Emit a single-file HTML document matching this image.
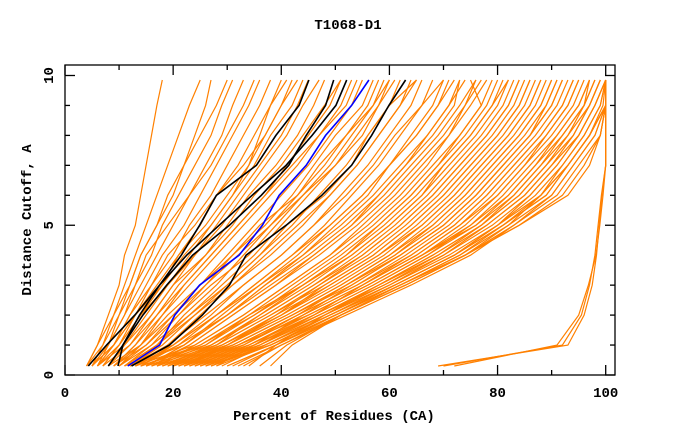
<!DOCTYPE html>
<html><head><meta charset="utf-8"><style>
body{margin:0;background:#fff}
svg{display:block}
text{font-family:"Liberation Mono",monospace;font-weight:bold;fill:#000}
</style></head><body>
<svg id="chart" width="680" height="440" viewBox="0 0 680 440" xmlns="http://www.w3.org/2000/svg">
<text x="348" y="29" font-size="14" text-anchor="middle">T1068-D1</text>
<g id="series"></g>
<g id="axes"></g>
<text x="334" y="420" font-size="14" text-anchor="middle">Percent of Residues (CA)</text>
<text transform="translate(31,220) rotate(-90)" font-size="14" text-anchor="middle">Distance Cutoff, A</text>
</svg>
<script>
const yLevels=[0.3,1,2,3,4,5,6,7,8,9,9.85];
const xTicks=[0,20,40,60,80,100];
const yTicks=[0,5,10];
const orangeLines=[
[4,6,8,10,11,13,14,15,16,17,18],
[4,6,9,11,13,15,17,19,21,23,25],
[5,7,9,12,14,17,19,22,24,26,27],
[5,8,11,13,16,18,21,24,27,29,31],
[6,8,11,14,17,20,23,26,29,31,33],
[6,9,12,15,18,22,25,28,31,34,36],
[7,10,13,16,20,23,27,30,33,36,38],
[7,10,14,18,21,25,28,32,35,38,40],
[8,11,15,19,23,27,31,34,37,40,42],
[8,12,16,20,24,28,32,36,40,43,45],
[5,9,13,18,22,27,31,35,38,42,44],
[6,10,14,19,24,29,33,37,41,44,47],
[9,13,17,21,26,30,34,39,43,46,48],
[10,14,18,22,27,32,37,41,45,49,51],
[9,13,18,23,28,33,38,43,47,51,53],
[10,15,20,25,30,35,40,45,49,53,55],
[11,16,21,26,31,37,42,46,50,55,57],
[12,17,22,28,33,38,43,48,52,56,58],
[11,17,23,29,35,40,45,50,54,58,60],
[12,18,24,30,36,42,47,52,56,60,62],
[13,19,25,31,38,44,49,54,58,62,64],
[14,20,27,33,40,46,51,56,60,64,66],
[14,21,28,35,42,48,53,58,62,66,68],
[15,22,30,37,44,50,56,60,64,68,70],
[16,23,31,39,46,53,58,63,67,71,73],
[8,14,19,25,31,36,43,47,52,57,60],
[9,15,21,27,34,39,44,50,55,58,61],
[10,16,23,30,36,41,48,53,56,60,65],
[7,12,17,22,27,32,37,42,47,52,54],
[6,11,16,20,26,31,35,40,44,48,51],
[5,9,12,16,19,24,28,33,37,40,43],
[4,7,10,13,15,19,23,27,30,33,35],
[5,8,10,12,14,17,20,22,25,28,30],
[6,9,13,17,21,26,30,34,36,38,41],
[9,14,20,26,32,38,44,49,53,57,59],
[11,17,24,31,37,43,49,54,58,62,65],
[12,19,26,33,40,46,52,57,61,66,70],
[13,20,28,35,42,49,55,60,65,69,72],
[16,25,34,42,50,57,63,68,73,77,79],
[17,26,35,44,52,59,65,70,75,79,81],
[18,27,37,46,54,61,67,72,77,81,83],
[19,28,38,47,56,63,69,74,79,83,85],
[20,29,39,49,58,65,71,76,81,85,87],
[20,30,41,51,60,67,73,78,83,87,89],
[21,31,42,52,61,69,75,80,85,89,91],
[22,32,43,54,63,71,77,82,87,91,93],
[23,33,44,55,65,73,79,84,89,93,95],
[24,34,46,57,67,75,81,86,91,95,97],
[25,35,47,58,68,77,83,88,93,97,99],
[26,36,48,60,70,78,85,90,95,98,100],
[27,37,49,61,72,80,87,92,96,99,100],
[28,38,50,62,73,81,89,93,97,100,100],
[30,39,51,63,74,82,90,94,98,100,100],
[32,40,52,64,75,83,91,95,99,100,100],
[18,28,36,45,53,60,66,71,76,80,82],
[19,29,40,48,57,64,70,75,80,84,86],
[21,30,40,50,59,66,72,77,82,86,88],
[22,31,42,53,62,70,76,81,86,90,92],
[23,32,45,56,66,74,80,85,90,94,96],
[25,34,45,56,66,76,82,87,92,96,98],
[26,35,47,59,69,77,84,89,94,97,99],
[29,37,49,61,72,80,86,91,95,98,100],
[31,39,50,62,73,82,88,93,97,100,100],
[24,33,43,52,61,68,74,79,84,88,90],
[27,36,46,55,64,72,78,83,88,92,94],
[33,40,51,63,74,83,90,94,98,100,100],
[36,41,51,63,74,84,92,96,99,100,100],
[38,42,51,62,74,84,93,97,99,100,100],
[20,27,36,44,52,58,64,69,73,77,75],
[17,24,33,41,49,55,61,66,71,74,76],
[15,22,29,36,43,49,55,60,65,69,71],
[22,30,39,47,55,62,68,73,78,82,84],
[28,35,44,53,62,70,76,81,86,89,91],
[34,39,48,58,68,77,84,89,93,96,97],
[12,22,30,38,46,53,59,64,69,73,76],
[13,24,33,41,49,56,62,67,71,75,78],
[14,25,35,43,51,58,64,69,74,78,80],
[15,27,37,46,55,62,68,73,78,82,84],
[17,29,40,49,58,66,72,77,82,86,88],
[19,31,42,52,62,70,76,81,86,90,92],
[21,33,44,55,65,73,80,85,89,93,95],
[23,35,46,57,67,76,83,88,92,96,98],
[25,37,48,59,70,79,86,91,95,98,100],
[27,38,49,60,71,80,88,92,96,99,100],
[30,39,50,61,72,81,89,93,97,99.5,100],
[14,26,34,44,53,60,66,70,75,79,82],
[16,28,38,48,57,64,70,75,80,84,86],
[18,30,41,51,60,68,74,79,84,88,90],
[20,32,43,54,64,72,78,83,88,92,94],
[22,34,45,56,66,75,82,87,91,95,97],
[24,36,47,58,69,78,85,90,94,97,99],
[26,38,50,61,72,81,88,93,97,100,100],
[11,20,28,36,44,51,57,62,67,71,74],
[13,21,30,37,45,52,58,63,68,72,73],
[15,23,31,39,47,54,60,65,70,74,77],
[69,93,96,97.5,98.3,98.8,99.3,100,100,100,100],
[70,92,95.5,97,98,98.6,99.2,100,100,100,100],
[72,91,95,96.8,98.2,98.9,99.5,100,100,100,100]
];
const blackLines=[
[4.3,7.7,12.9,17.5,21.5,24.9,28,35.4,39,43.3,45.1],
[8,10.7,14.4,18.8,23.6,30.4,36.3,41.4,44.6,48.2,49.7],
[9.8,10.7,13.8,17.5,22.5,28.5,34.6,40.9,45.7,50.1,52.1],
[12.3,19.3,25.4,30.4,33.5,40.9,47.5,53,56.7,59.9,63]
];
const blueLine=[11.6,17.5,20.3,24.9,32.2,36.5,39.6,44.6,48.2,53,56.2];

const NS='http://www.w3.org/2000/svg';
const X0=65,X1=605.7,Y0=375,Y1=75.5;
function sx(v){return X0+(X1-X0)*v/100;}
function sy(v){return Y0+(Y1-Y0)*v/10;}
const series=document.getElementById('series');
const axes=document.getElementById('axes');
function drawLine(xs,color,w,name){
  const p=document.createElementNS(NS,'polyline');
  p.setAttribute('points',xs.map((x,i)=>sx(x).toFixed(1)+','+sy(yLevels[i]).toFixed(1)).join(' '));
  p.setAttribute('fill','none');
  p.setAttribute('stroke',color);
  p.setAttribute('stroke-width',w);
  
  
  series.appendChild(p);
}
orangeLines.forEach(l=>drawLine(l,'#ff8000',1.2,'model-line'));
blackLines.forEach(l=>drawLine(l,'#000',1.6,'highlight-model-line'));
drawLine(blueLine,'#0000ff',1.6,'target-model-line');

function ln(x1,y1,x2,y2,name){
  const l=document.createElementNS(NS,'line');
  l.setAttribute('x1',x1);l.setAttribute('y1',y1);l.setAttribute('x2',x2);l.setAttribute('y2',y2);
  l.setAttribute('stroke','#000');l.setAttribute('stroke-width',1.3);
  
  
  axes.appendChild(l);
}
const FL=65,FR=615,FT=65,FB=375;
const fr=document.createElementNS(NS,'rect');
fr.setAttribute('x',FL);fr.setAttribute('y',FT);fr.setAttribute('width',FR-FL);fr.setAttribute('height',FB-FT);
fr.setAttribute('fill','none');fr.setAttribute('stroke','#000');fr.setAttribute('stroke-width',1.3);


axes.appendChild(fr);
for(let v=0;v<=100;v+=10){
  const big=v%20===0, L=big?10:5, x=sx(v);
  ln(x,FB,x,FB-L,'x-tick');
  ln(x,FT,x,FT+L,'x-tick-top');
}
for(let v=0;v<=10;v+=1){
  const big=v%5===0, L=big?10:5, y=sy(v);
  ln(FL,y,FL+L,y,'y-tick');
  ln(FR,y,FR-L,y,'y-tick-right');
}
xTicks.forEach(v=>{
  const t=document.createElementNS(NS,'text');
  t.setAttribute('x',sx(v));t.setAttribute('y',397);t.setAttribute('font-size','14');t.setAttribute('text-anchor','middle');
  t.textContent=v;
  
  
  axes.appendChild(t);
});
yTicks.forEach(v=>{
  const t=document.createElementNS(NS,'text');
  t.setAttribute('transform','translate(53,'+sy(v)+') rotate(-90)');t.setAttribute('font-size','14');t.setAttribute('text-anchor','middle');
  t.textContent=v;
  
  
  axes.appendChild(t);
});
</script>
</body></html>
